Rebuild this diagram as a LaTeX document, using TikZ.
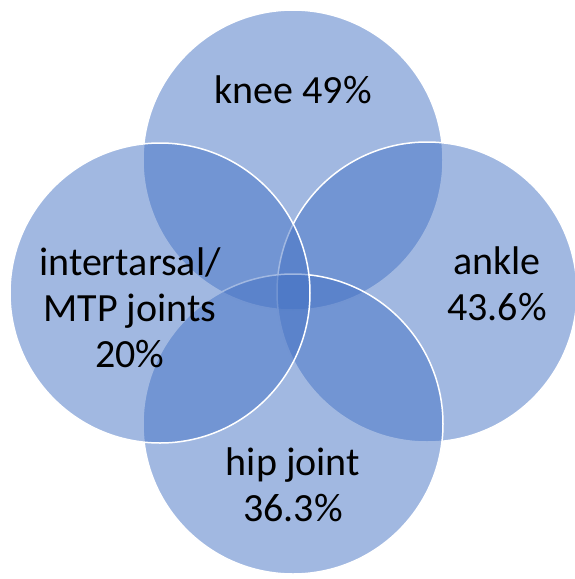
\documentclass[tikz,border=0pt]{standalone}
\usepackage{fontspec}
\setmainfont{Carlito}
\definecolor{vblue}{HTML}{4472C4}
\begin{document}
\begin{tikzpicture}[x=1pt,y=-1pt,
  venn/.style={circle, minimum size=300pt, inner sep=0pt, fill=vblue, fill opacity=0.5, draw=white, line width=1.5pt, draw opacity=1},
  lbl/.style={align=center, font=\fontsize{40}{46}\selectfont, text=black}]
\useasboundingbox (0,0) rectangle (574,579);
\node[venn] (knee) at (293,160) {};
\node[venn] (ankle) at (427,292) {};
\node[venn] (hip) at (293,424) {};
\node[venn] (inter) at (160,293) {};
\node[lbl] (tknee) at (293,90) {knee 49\%};
\node[lbl] (tinter) at (130,308) {intertarsal/\\MTP joints\\20\%};
\node[lbl] (tankle) at (497,284) {ankle\\43.6\%};
\node[lbl] (thip) at (293,485) {hip joint\\36.3\%};
\end{tikzpicture}
\end{document}
